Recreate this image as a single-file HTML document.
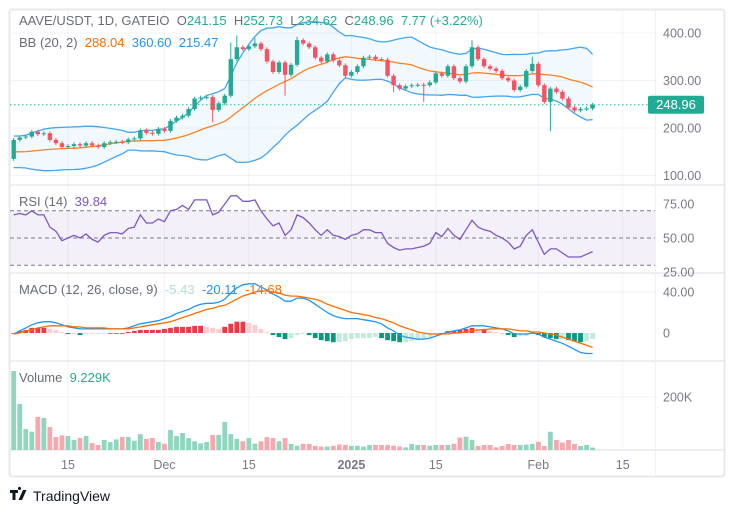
<!DOCTYPE html>
<html><head><meta charset="utf-8"><style>
html,body{margin:0;padding:0;background:#fff;width:731px;height:513px;overflow:hidden;font-family:"Liberation Sans",sans-serif}
svg text{font-family:"Liberation Sans",sans-serif;white-space:pre}
</style></head><body>
<svg id="chart" width="731" height="513" viewBox="0 0 731 513" xmlns="http://www.w3.org/2000/svg">
<rect x="9.5" y="9.5" width="715" height="467" fill="#fff" stroke="#e6e8ee" stroke-width="2" rx="3"/>
<g id="grid"></g>
<g id="panes"></g>
<g id="marks"></g>
<g id="labels"></g>
<g>
<path d="M10 490h8v3h-2.5v7h-3v-7H10z M19.5 490a1.6 1.6 0 1 1 0.01 0z M23 490h3.5l-4.5 10h-3.5z" fill="#131722"/>
<text x="33" y="501" font-size="14" fill="#131722">TradingView</text>
</g>
</svg>
<script>
// ---- data ----
const priorCloses=[180,175,170,160,165,155,150,145,150,160,150,140,135,130,125,128,132,138,135];
const firstOpen=135;
const closes=[175,180,182,192,187,189,175,168,160,162,166,163,168,163,160,168,170,171,170,176,178,195,190,188,198,194,215,222,226,240,262,264,265,238,252,268,345,370,366,372,378,366,340,318,338,312,333,385,378,370,348,340,355,342,332,310,318,330,348,350,345,344,310,290,283,288,290,291,290,296,315,310,330,305,298,330,370,345,330,325,320,305,300,280,287,320,335,290,255,283,276,262,243,237,240,241.15,248.96];
const wickLowIdx=[33,45,68,89,63];
const wickLowVal=[212,268,255,193,275];
const wickHighIdx=[36,37,47,76,86,40];
const wickHighVal=[380,395,392,385,350,390];
const rsi=[67,68,67,70,67,67,58,55,48,50,52,50,53,49,47,52,54,54,53,57,58,67,61,61,64,62,70,71,74,71,78,78,78,67,69,75,81,81,77,77,78,70,64,59,61,52,56,67,65,61,56,52,56,52,51,49,52,53,56,56,54,54,46,43,41,42,42,43,44,46,54,51,57,52,49,56,63,58,56,55,52,50,47,42,44,52,56,47,38,42,42,39,36,36,36,38,40];
const macd=[-1,2,5,8,10,11,11,10,8,6,5,4,4,4,4,4,4,4,4,5,7,9,10,11,12,14,16,19,21,23,26,28,29,29,30,33,39,44,47,48,48,45,42,38,35,31,31,34,34,32,28,24,20,17,15,14,14,14,13,12,11,9,5,2,-2,-4,-5,-6,-6,-5,-3,-1,1,2,3,5,7,7,7,6,5,4,2,-1,-1,-1,0,-1,-4,-6,-8,-10,-13,-16,-19,-20,-20];
const signal=[-1,0,2,3,5,6,7,7,7,7,6,6,5,5,5,5,4,4,4,4,5,6,7,8,9,10,11,13,15,17,19,21,23,24,26,27,30,33,36,38,40,41,41,40,39,37,36,36,35,34,33,31,28,26,24,22,20,19,18,17,15,14,12,10,7,5,3,1,0,-1,-1,-1,-1,0,0,1,2,3,3,4,4,4,4,3,2,2,1,1,0,-1,-2,-4,-6,-8,-10,-12,-14];
const volumeK=[298,174,79,69,125,121,87,49,55,53,38,45,53,26,19,38,30,40,49,49,35,60,42,45,30,24,75,53,64,45,33,25,30,57,57,106,60,42,33,45,24,33,49,45,33,45,23,16,23,23,16,13,13,16,21,19,16,16,13,19,19,19,19,16,13,10,23,19,19,16,19,19,19,23,47,50,38,15,19,19,10,15,23,19,19,20,23,31,15,69,38,28,38,23,15,19,9];
const priceTicks=[400,300,200,100];
const rsiTicks=[75,50,25];
const macdTicks=[40,0];
const volTicks=[200];
const timeLabels=["15","Dec","15","2025","15","Feb","15"];
const timeDays=[9,25,39,56,70,87,101]; // days since first candle (Nov 6)

// ---- scales ----
const X=i=>13.7+6.03*i;
const PY=p=>33+(400-p)*0.475;
const RY=v=>238-(v-50)*1.36;
const MY=v=>333-v*1.025;
const VY=v=>450-v*53/200;
const NS="http://www.w3.org/2000/svg";
function mk(tag,attrs,parent){const e=document.createElementNS(NS,tag);for(const k in attrs)e.setAttribute(k,attrs[k]);parent.appendChild(e);return e;}
const grid=document.getElementById('grid'),panes=document.getElementById('panes'),marks=document.getElementById('marks'),labels=document.getElementById('labels');
const GREEN="#22ab94",RED="#f7525f";

// grid
timeDays.forEach(d=>{const l=mk('line',{x1:X(d),x2:X(d),y1:10,y2:450,stroke:"#f2f3f6"},grid);

});
priceTicks.forEach(p=>{const l=mk('line',{x1:10,x2:655,y1:PY(p),y2:PY(p),stroke:"#f2f3f6"},grid);

});
mk('line',{x1:10,x2:655,y1:VY(200),y2:VY(200),stroke:"#f2f3f6"},grid);
mk('line',{x1:10,x2:655,y1:MY(40),y2:MY(40),stroke:"#f2f3f6"},grid);
// separators
[185,273,361,450].forEach(y=>{const l=mk('line',{x1:10,x2:724,y1:y,y2:y,stroke:"#e6e8ee","stroke-width":1.5},panes);

});
const vs=mk('line',{x1:655.5,x2:655.5,y1:10,y2:476,stroke:"#eef0f3"},panes);



// Bollinger
const all=priorCloses.concat(closes);
const mid=[],up=[],lo=[];
closes.forEach((c,i)=>{const w=all.slice(i,i+20);const m=w.reduce((a,b)=>a+b,0)/20;const sd=Math.sqrt(w.reduce((a,b)=>a+(b-m)*(b-m),0)/20);mid.push(m);up.push(m+2*sd);lo.push(m-2*sd);});
const pts=a=>a.map((v,i)=>X(i).toFixed(1)+","+PY(v).toFixed(1)).join(" ");
const fill=mk('polygon',{points:pts(up)+" "+lo.map((v,i)=>[i,v]).reverse().map(([i,v])=>X(i).toFixed(1)+","+PY(v).toFixed(1)).join(" "),fill:"rgba(33,150,243,0.06)"},marks);


const bu=mk('polyline',{points:pts(up),fill:"none",stroke:"#42a5f5","stroke-width":1.3},marks);


const bl=mk('polyline',{points:pts(lo),fill:"none",stroke:"#42a5f5","stroke-width":1.3},marks);


const bm=mk('polyline',{points:pts(mid),fill:"none",stroke:"#ff7f1e","stroke-width":1.3},marks);



// candles
closes.forEach((c,i)=>{
  const o=i===0?firstOpen:closes[i-1];
  let h=Math.max(o,c)+4,l=Math.min(o,c)-4;
  const a=wickLowIdx.indexOf(i);if(a>=0)l=wickLowVal[a];
  const b=wickHighIdx.indexOf(i);if(b>=0)h=wickHighVal[b];
  const col=c>=o?GREEN:RED;
  const g=mk('g',{},marks);
  
  
  mk('line',{x1:X(i),x2:X(i),y1:PY(h),y2:PY(l),stroke:col,"stroke-width":1},g);
  const y1=PY(Math.max(o,c)),y2=PY(Math.min(o,c));
  mk('rect',{x:X(i)-2.2,y:y1,width:4.4,height:Math.max(1,y2-y1),fill:col},g);
});
// last price line
const last=closes[closes.length-1];
const lp=mk('line',{x1:10,x2:655,y1:PY(last),y2:PY(last),stroke:GREEN,"stroke-dasharray":"1.5 2.5","stroke-width":1},marks);



// RSI
const rb=mk('rect',{x:10,y:RY(70),width:645,height:RY(30)-RY(70),fill:"rgba(126,87,194,0.09)"},marks);


[70,50,30].forEach(v=>{const l=mk('line',{x1:10,x2:655,y1:RY(v),y2:RY(v),stroke:"#787b86","stroke-dasharray":"4 3","stroke-width":1},marks);

});
const rl=mk('polyline',{points:rsi.map((v,i)=>X(i).toFixed(1)+","+RY(v).toFixed(1)).join(" "),fill:"none",stroke:"#7e57c2","stroke-width":1.3},marks);



// MACD
macd.forEach((m,i)=>{const hv=m-signal[i];const prev=i?macd[i-1]-signal[i-1]:hv;
  let col=hv>=0?(hv>=prev?"#f23645":"#facdd0"):(hv<prev?"#089981":"#c3eadf");
  const y0=MY(0),y1=MY(hv);
  const r=mk('rect',{x:X(i)-2.4,y:Math.min(y0,y1),width:4.8,height:Math.max(0.8,Math.abs(y1-y0)),fill:col},marks);
  
  });
const ml=mk('polyline',{points:macd.map((v,i)=>X(i).toFixed(1)+","+MY(v).toFixed(1)).join(" "),fill:"none",stroke:"#2196f3","stroke-width":1.3},marks);


const sl=mk('polyline',{points:signal.map((v,i)=>X(i).toFixed(1)+","+MY(v).toFixed(1)).join(" "),fill:"none",stroke:"#ff6d00","stroke-width":1.3},marks);



// Volume
volumeK.forEach((v,i)=>{const o=i===0?firstOpen:closes[i-1];const col=closes[i]>=o?"#8fd6bd":"#f7a7ae";
  const r=mk('rect',{x:X(i)-2.4,y:VY(v),width:4.8,height:450-VY(v),fill:col},marks);
  
  });

// axis labels
function txt(s,x,y,attrs,name){const t=mk('text',Object.assign({x:x,y:y,"font-size":12.5,fill:"#787b86"},attrs||{}),labels);t.textContent=s;
  
  return t;}
priceTicks.forEach(p=>txt(p.toFixed(2),663,PY(p)+4.5,{},'price-tick-label'));
rsiTicks.forEach(v=>txt(v.toFixed(2),663,RY(v)+4.5,{},'rsi-tick-label'));
macdTicks.forEach(v=>txt(v===0?"0":v.toFixed(2),663,MY(v)+4.5,{},'macd-tick-label'));
volTicks.forEach(v=>txt(v+"K",663,VY(v)+4.5,{},'volume-tick-label'));
timeLabels.forEach((s,k)=>txt(s,X(timeDays[k]),469,{"text-anchor":"middle","font-weight":s==="2025"?"bold":"normal"},'time-axis-label'));
// last price badge
const bg=mk('rect',{x:648,y:PY(last)-9,width:56,height:18,rx:2,fill:GREEN},labels);


txt(last.toFixed(2),676,PY(last)+4.5,{fill:"#fff","text-anchor":"middle","font-size":13},'last-price-value');

// legends
function legend(y,parts,name){const t=mk('text',{x:19,y:y,"font-size":13},labels);
  
  
  parts.forEach(([s,c])=>{const sp=mk('tspan',{fill:c},t);sp.textContent=s;});}
legend(25,[["AAVE/USDT, 1D, GATEIO  O","#6a6d78"],["241.15","#22ab94"],["  H","#6a6d78"],["252.73","#22ab94"],["  L","#6a6d78"],["234.62","#22ab94"],["  C","#6a6d78"],["248.96  7.77 (+3.22%)","#22ab94"]],'ohlc-legend');
legend(47,[["BB (20, 2)  ","#6a6d78"],["288.04","#ff6d00"],["  360.60  215.47","#2196f3"]],'bb-legend');
legend(206,[["RSI (14)  ","#6a6d78"],["39.84","#7e57c2"]],'rsi-legend');
legend(294,[["MACD (12, 26, close, 9)  ","#6a6d78"],["-5.43","#b2dfd4"],["  -20.11","#2196f3"],["  -14.68","#ff6d00"]],'macd-legend');
legend(382,[["Volume  ","#6a6d78"],["9.229K","#22ab94"]],'volume-legend');
</script>
</body></html>
